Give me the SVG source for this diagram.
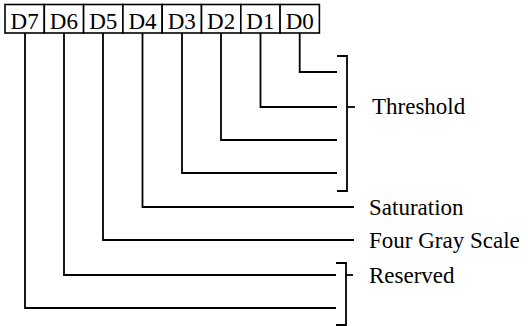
<svg xmlns="http://www.w3.org/2000/svg" width="528" height="326" viewBox="0 0 528 326">
<style>
.box{fill:#fff;stroke:#000;stroke-width:1.6}
.bt{font-family:"Liberation Serif","Times New Roman",serif;font-size:23px;fill:#000;text-anchor:middle}
.lb{font-family:"Liberation Serif","Times New Roman",serif;font-size:23px;fill:#000}
.ln{fill:none;stroke:#000;stroke-width:1.8}
</style>
<rect width="528" height="326" fill="#fff"/>
<g id="register">
<g id="D7"><rect class="box" x="5" y="4.5" width="39.3" height="28.5"/><text class="bt" x="24.6" y="29">D7</text></g>
<g id="D6"><rect class="box" x="44.3" y="4.5" width="39.3" height="28.5"/><text class="bt" x="63.9" y="29">D6</text></g>
<g id="D5"><rect class="box" x="83.6" y="4.5" width="39.3" height="28.5"/><text class="bt" x="103.2" y="29">D5</text></g>
<g id="D4"><rect class="box" x="122.9" y="4.5" width="39.3" height="28.5"/><text class="bt" x="142.5" y="29">D4</text></g>
<g id="D3"><rect class="box" x="162.2" y="4.5" width="39.3" height="28.5"/><text class="bt" x="181.8" y="29">D3</text></g>
<g id="D2"><rect class="box" x="201.5" y="4.5" width="39.3" height="28.5"/><text class="bt" x="221.1" y="29">D2</text></g>
<g id="D1"><rect class="box" x="240.8" y="4.5" width="39.3" height="28.5"/><text class="bt" x="260.4" y="29">D1</text></g>
<g id="D0"><rect class="box" x="280.1" y="4.5" width="39.3" height="28.5"/><text class="bt" x="299.7" y="29">D0</text></g>
</g>
<g id="connectors">
<polyline class="ln" points="299.7,33 299.7,72 337,72"/>
<polyline class="ln" points="260.5,33 260.5,107 337,107"/>
<polyline class="ln" points="221,33 221,140 337,140"/>
<polyline class="ln" points="182,33 182,173 337,173"/>
<polyline class="ln" points="142.5,33 142.5,207 354,207"/>
<polyline class="ln" points="103,33 103,240 354,240"/>
<polyline class="ln" points="64,33 64,275 336,275"/>
<polyline class="ln" points="25,33 25,308 336,308"/>
</g>
<g id="threshold">
<polyline class="ln" points="337,56 347,56 347,191 337,191"/>
<line class="ln" x1="347" y1="107" x2="355" y2="107"/>
<text class="lb" x="372" y="114">Threshold</text>
</g>
<g id="saturation"><text class="lb" x="369" y="215">Saturation</text></g>
<g id="fourgray"><text class="lb" x="369" y="248">Four Gray Scale</text></g>
<g id="reserved">
<polyline class="ln" points="336,263 346,263 346,325 336,325"/>
<line class="ln" x1="346" y1="275" x2="353" y2="275"/>
<text class="lb" x="369" y="283">Reserved</text>
</g>
</svg>
